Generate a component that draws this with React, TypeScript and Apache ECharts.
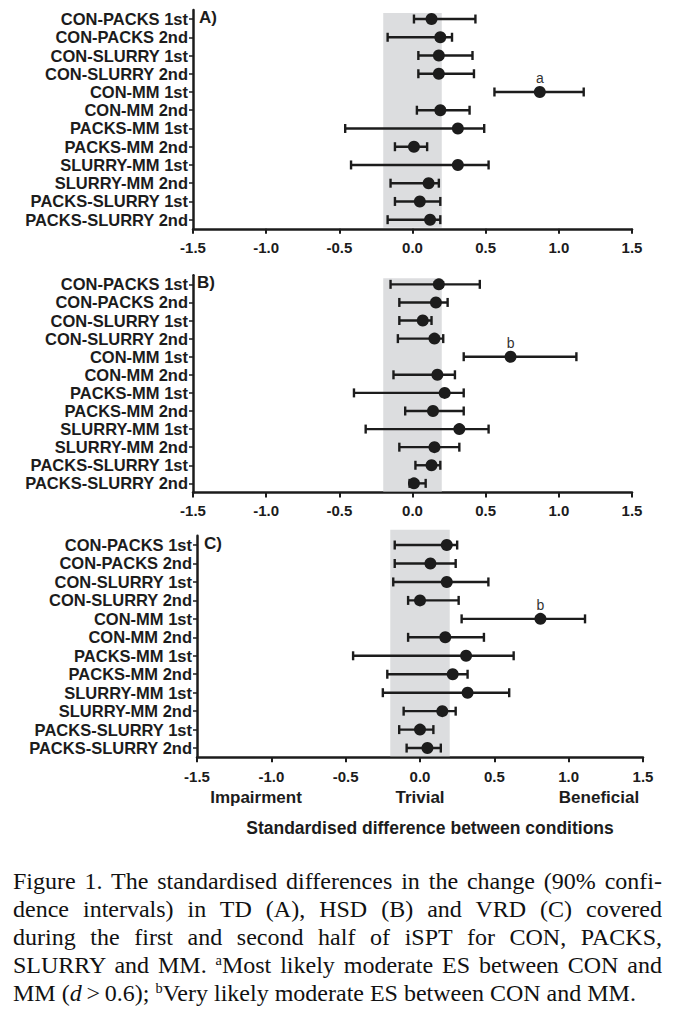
import React, { useEffect, useRef } from "react";
import * as echarts from "echarts";

// ---------- data ----------
const categories = [
  "CON-PACKS 1st",
  "CON-PACKS 2nd",
  "CON-SLURRY 1st",
  "CON-SLURRY 2nd",
  "CON-MM 1st",
  "CON-MM 2nd",
  "PACKS-MM 1st",
  "PACKS-MM 2nd",
  "SLURRY-MM 1st",
  "SLURRY-MM 2nd",
  "PACKS-SLURRY 1st",
  "PACKS-SLURRY 2nd",
];

// Panel A (TD)
const tdMean = [0.13, 0.19, 0.18, 0.18, 0.87, 0.19, 0.31, 0.01, 0.31, 0.11, 0.05, 0.12];
const tdLower = [0.01, -0.17, 0.04, 0.04, 0.56, 0.03, -0.46, -0.12, -0.42, -0.15, -0.12, -0.17];
const tdUpper = [0.43, 0.27, 0.41, 0.42, 1.17, 0.39, 0.49, 0.1, 0.52, 0.18, 0.19, 0.19];

// Panel B (HSD)
const hsdMean = [0.18, 0.16, 0.07, 0.15, 0.67, 0.17, 0.22, 0.14, 0.32, 0.15, 0.13, 0.01];
const hsdLower = [-0.15, -0.09, -0.09, -0.1, 0.35, -0.13, -0.4, -0.05, -0.32, -0.09, 0.02, -0.02];
const hsdUpper = [0.46, 0.24, 0.13, 0.21, 1.12, 0.29, 0.35, 0.35, 0.52, 0.32, 0.19, 0.09];

// Panel C (VRD)
const vrdMean = [0.18, 0.07, 0.18, 0.0, 0.81, 0.17, 0.31, 0.22, 0.32, 0.15, 0.0, 0.05];
const vrdLower = [-0.17, -0.17, -0.18, -0.08, 0.28, -0.08, -0.45, -0.22, -0.25, -0.11, -0.14, -0.09];
const vrdUpper = [0.25, 0.24, 0.46, 0.26, 1.11, 0.43, 0.63, 0.32, 0.6, 0.24, 0.09, 0.14];

const panelLabels = ["A)", "B)", "C)"];
const noteLetters = ["a", "b", "b"];
const noteCategory = "CON-MM 1st";
const trivialBand = [-0.2, 0.2];
const xTicks = { min: -1.5, max: 1.5, interval: 0.5 };
const regionLabels = ["Impairment", "Trivial", "Beneficial"];
const xTitle = "Standardised difference between conditions";

const captionLines = [
  "Figure 1. The standardised differences in the change (90% confi-",
  "dence intervals) in TD (A), HSD (B) and VRD (C) covered",
  "during the first and second half of iSPT for CON, PACKS,",
];

// ---------- layout / style ----------
const W = 682;
const H = 1013;
const grids = [
  { left: 193, width: 439, top: 9.9, height: 218.9, bandOff: 3, labelX: 199 },
  { left: 193, width: 439, top: 275.3, height: 217.1, bandOff: 3, labelX: 197 },
  { left: 197, width: 446, top: 535.8, height: 221.5, bandOff: -6, labelX: 204 },
];
const INK = "#1c1c1c";
const FONT = "'Liberation Sans', Arial, Helvetica, sans-serif";

export default function App() {
  const ref = useRef<HTMLDivElement>(null);

  useEffect(() => {
    if (!ref.current) return;
    const chart = echarts.init(ref.current, undefined, { renderer: "svg" });
    const panels = [
      { mean: tdMean, lower: tdLower, upper: tdUpper },
      { mean: hsdMean, lower: hsdLower, upper: hsdUpper },
      { mean: vrdMean, lower: vrdLower, upper: vrdUpper },
    ];
    const noteIdx = categories.indexOf(noteCategory);

    const grid = grids.map((g) => ({
      left: g.left,
      top: g.top,
      width: g.width,
      height: g.height,
      containLabel: false,
    }));

    const xAxis = grids.map((g, i) => ({
      type: "value",
      gridIndex: i,
      min: xTicks.min,
      max: xTicks.max,
      interval: xTicks.interval,
      splitLine: { show: false },
      axisLine: { show: true, onZero: false, lineStyle: { color: INK, width: 2.5 } },
      axisTick: { show: true, length: 5, lineStyle: { color: INK, width: 2 } },
      axisLabel: {
        margin: i === 2 ? 12 : 11,
        color: INK,
        fontFamily: FONT,
        fontWeight: "bold",
        fontSize: 15,
        formatter: (v: number) => v.toFixed(1),
      },
    }));

    const yAxis = grids.map((g, i) => ({
      type: "category",
      gridIndex: i,
      data: categories,
      inverse: true,
      axisLine: { show: true, onZero: false, lineStyle: { color: INK, width: 2.5 } },
      axisTick: {
        show: true,
        interval: 0,
        length: 4,
        alignWithLabel: true,
        lineStyle: { color: INK, width: 1.5 },
      },
      axisLabel: {
        interval: 0,
        margin: 5,
        color: INK,
        fontFamily: FONT,
        fontWeight: "bold",
        fontSize: 16.5,
      },
      splitLine: { show: false },
    }));

    const series: any[] = [];
    panels.forEach((p, i) => {
      const off = grids[i].bandOff;
      series.push({
        type: "custom",
        xAxisIndex: i,
        yAxisIndex: i,
        z: 1,
        silent: true,
        encode: { x: [0, 1], y: 2 },
        data: [[trivialBand[0], trivialBand[1], 0]],
        renderItem: (params: any, api: any) => {
          const cs = params.coordSys;
          const x0 = api.coord([api.value(0), 0])[0];
          const x1 = api.coord([api.value(1), 0])[0];
          return {
            type: "rect",
            shape: { x: x0, y: cs.y + off, width: x1 - x0, height: cs.height - off - 1 },
            style: { fill: "#dcdddf", stroke: "none" },
          };
        },
      });
      series.push({
        type: "custom",
        xAxisIndex: i,
        yAxisIndex: i,
        z: 3,
        silent: true,
        encode: { x: [1, 2], y: 0 },
        data: categories.map((_, k) => [k, p.lower[k], p.upper[k]]),
        renderItem: (params: any, api: any) => {
          const cat = api.value(0);
          const lo = api.coord([api.value(1), cat]);
          const hi = api.coord([api.value(2), cat]);
          const h = 4.5;
          const style = { stroke: INK, lineWidth: 2.4 };
          return {
            type: "group",
            children: [
              { type: "line", shape: { x1: lo[0], y1: lo[1], x2: hi[0], y2: hi[1] }, style },
              { type: "line", shape: { x1: lo[0], y1: lo[1] - h, x2: lo[0], y2: lo[1] + h }, style },
              { type: "line", shape: { x1: hi[0], y1: hi[1] - h, x2: hi[0], y2: hi[1] + h }, style },
            ],
          };
        },
      });
      series.push({
        type: "scatter",
        xAxisIndex: i,
        yAxisIndex: i,
        z: 4,
        symbol: "circle",
        symbolSize: 12,
        itemStyle: { color: INK, opacity: 1 },
        data: categories.map((_, k) => {
          const item: any = { value: [p.mean[k], k] };
          if (k === noteIdx) {
            item.label = {
              show: true,
              position: "top",
              distance: 1,
              formatter: noteLetters[i],
              fontFamily: FONT,
              fontSize: 14,
              color: "#333",
            };
          }
          return item;
        }),
      });
    });

    const graphic: any[] = [];
    grids.forEach((g, i) => {
      graphic.push({
        type: "text",
        left: g.labelX,
        top: g.top + g.height / 24 - 10,
        style: {
          text: panelLabels[i],
          fontFamily: FONT,
          fontWeight: "bold",
          fontSize: 17,
          fill: INK,
        },
      });
    });
    const regionX = [256, 420, 599];
    regionLabels.forEach((t, k) => {
      graphic.push({
        type: "text",
        x: regionX[k],
        y: 797,
        style: {
          text: t,
          fontFamily: FONT,
          fontWeight: "bold",
          fontSize: 17,
          fill: INK,
          align: "center",
          verticalAlign: "middle",
        },
      });
    });
    graphic.push({
      type: "text",
      x: 430,
      y: 828,
      style: {
        text: xTitle,
        fontFamily: FONT,
        fontWeight: "bold",
        fontSize: 17.5,
        fill: INK,
        align: "center",
        verticalAlign: "middle",
      },
    });

    chart.setOption({
      animation: false,
      backgroundColor: "#ffffff",
      grid,
      xAxis,
      yAxis,
      series,
      graphic,
    });
    return () => chart.dispose();
  }, []);

  const lineStyle: React.CSSProperties = {
    textAlign: "justify",
    textAlignLast: "justify",
    height: 28,
    overflow: "visible",
  };
  const supStyle: React.CSSProperties = { fontSize: "0.6em", verticalAlign: "0.55em", lineHeight: 0 };

  return (
    <div style={{ position: "absolute", left: 0, top: 0, width: W, height: H, background: "#fff" }}>
      <div ref={ref} style={{ position: "absolute", left: 0, top: 0, width: W, height: 860 }} />
      <div
        style={{
          position: "absolute",
          left: 13,
          top: 867,
          width: 649,
          fontFamily: "'Liberation Serif', 'Times New Roman', serif",
          fontSize: 24,
          lineHeight: "28px",
          color: "#111",
        }}
      >
        {captionLines.map((l, k) => (
          <div key={k} style={lineStyle}>
            {l}
          </div>
        ))}
        <div style={lineStyle}>
          SLURRY and MM. <sup style={supStyle}>a</sup>Most likely moderate ES between CON and
        </div>
        <div style={{ height: 28, whiteSpace: "nowrap" }}>
          MM (<i>d</i>{"\u2009>\u20090.6); "}
          <sup style={supStyle}>b</sup>Very likely moderate ES between CON and MM.
        </div>
      </div>
    </div>
  );
}
